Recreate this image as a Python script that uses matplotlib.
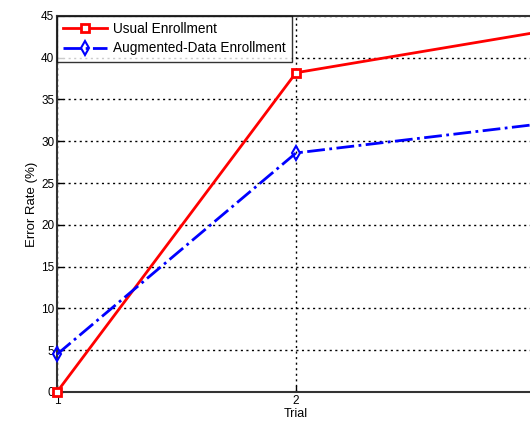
import matplotlib
matplotlib.use("Agg")
import matplotlib.pyplot as plt

plt.rcParams['font.family'] = ['Liberation Sans', 'DejaVu Sans']

trials = [1, 2, 3]
usual = [0.0, 38.2, 43.0]
augmented = [4.5, 28.6, 32.0]
yticks = [0, 5, 10, 15, 20, 25, 30, 35, 40, 45]
xticks = [1, 2]

fig = plt.figure(figsize=(5.30, 4.24), dpi=100)
ax = fig.add_axes([0.1075, 0.0755, 0.902, 0.887])

ax.plot(trials, usual, color='red', linestyle='-', linewidth=2, marker='s',
        markersize=6, markerfacecolor='white', markeredgecolor='red',
        markeredgewidth=2, label='Usual Enrollment', clip_on=False, zorder=3)
ax.plot(trials, augmented, color='blue', linestyle='-.', linewidth=2, marker='d',
        markersize=7, markerfacecolor='none', markeredgecolor='blue',
        markeredgewidth=1.5, label='Augmented-Data Enrollment', clip_on=False, zorder=3)

ax.set_xlim(1, 3)
ax.set_ylim(0, 45)
ax.set_xticks(xticks)
ax.set_yticks(yticks)
ax.tick_params(direction='in', labelsize=8.5, length=4, width=1, pad=2)
ax.grid(True, color='black', linestyle=(0, (1.5, 2.5)), linewidth=1)
for s in ax.spines.values():
    s.set_linewidth(1.5)
    s.set_color('#333333')

ax.set_xlabel('Trial', fontsize=9, labelpad=1)
ax.set_ylabel('Error Rate (%)', fontsize=9.5, labelpad=2)

leg = ax.legend(loc='upper left', fontsize=9.8, frameon=True, fancybox=False,
                edgecolor='black', borderaxespad=0, handlelength=3.2,
                borderpad=0.45, labelspacing=0.4, handletextpad=0.45)
leg.get_frame().set_linewidth(1)

fig.savefig('out.png', dpi=100)
